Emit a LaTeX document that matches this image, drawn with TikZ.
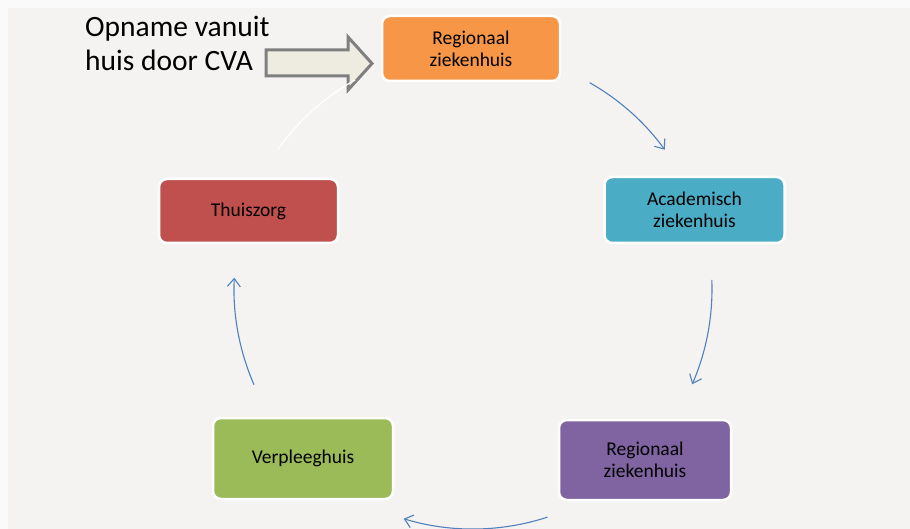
\documentclass[tikz,border=0pt]{standalone}
\usepackage{fontspec}
\setmainfont{Carlito}
\usetikzlibrary{arrows.meta}
\definecolor{outerbg}{HTML}{FAFAFA}
\definecolor{innerbg}{HTML}{F4F3F1}
\definecolor{corange}{HTML}{F79646}
\definecolor{cteal}{HTML}{4BACC6}
\definecolor{cpurple}{HTML}{8064A2}
\definecolor{cgreen}{HTML}{9BBB59}
\definecolor{cred}{HTML}{C0504D}
\definecolor{carrow}{HTML}{4F81BD}
\definecolor{bafill}{HTML}{EEECE1}
\definecolor{baedge}{HTML}{7F7F7F}
\tikzset{
  cbox/.style={draw=white, line width=2.5pt, rounded corners=8pt, align=center,
    font=\fontsize{19.5}{22}\selectfont, text=black, inner sep=2pt},
  cyc/.style={draw=carrow, line width=1.1pt,
    -{Straight Barb[length=8pt,width=13pt,line width=1.1pt]}},
  ghost/.style={draw=white, line width=1.2pt}
}
\begin{document}
\begin{tikzpicture}[x=1pt,y=1pt]
\useasboundingbox (0,0) rectangle (910,-529);
\fill[outerbg] (0,0) rectangle (910,-529);
\fill[innerbg] (8,-8) rectangle (910,-529);

% boxes
\node[cbox, fill=corange, minimum width=178pt, minimum height=65pt] (r1) at (471,-48.5) {Regionaal\\ziekenhuis};
\node[cbox, fill=cteal, minimum width=180pt, minimum height=66pt] (az) at (694.5,-210) {Academisch\\ziekenhuis};
\node[cbox, fill=cpurple, minimum width=172pt, minimum height=80pt] (r2) at (645,-460) {Regionaal\\ziekenhuis};
\node[cbox, fill=cgreen, minimum width=180pt, minimum height=81pt] (vh) at (303,-458.5) {Verpleeghuis};
\node[cbox, fill=cred, minimum width=179pt, minimum height=64pt] (tz) at (248.5,-211) {Thuiszorg};

% title text
\node[anchor=north west, align=left, inner sep=0pt, font=\fontsize{29.5}{34.5}\selectfont] (title) at (85,-16) {Opname vanuit\\huis door CVA};

% block arrow
\draw[draw=baedge, fill=bafill, line width=3pt, line join=miter]
  (266,-50) -- (348,-50) -- (348,-37) -- (372,-63.5) -- (348,-90) -- (348,-76) -- (266,-76) -- cycle;

% cycle arrows
\coordinate (ctr) at (473,-289);
\draw[cyc] ([shift={(60.5:237)}]ctr) arc[start angle=60.5, end angle=36, radius=237];
\draw[cyc] ([shift={(2.2:239)}]ctr) arc[start angle=2.2, end angle=-23.5, radius=239];
\draw[cyc] ([shift={(-71.9:240)}]ctr) arc[start angle=-71.9, end angle=-106.8, radius=240];
\draw[cyc] ([shift={(203.6:239)}]ctr) arc[start angle=203.6, end angle=177.3, radius=239];
\draw[ghost] ([shift={(144.5:240)}]ctr) arc[start angle=144.5, end angle=119.4, radius=240];
\end{tikzpicture}
\end{document}
